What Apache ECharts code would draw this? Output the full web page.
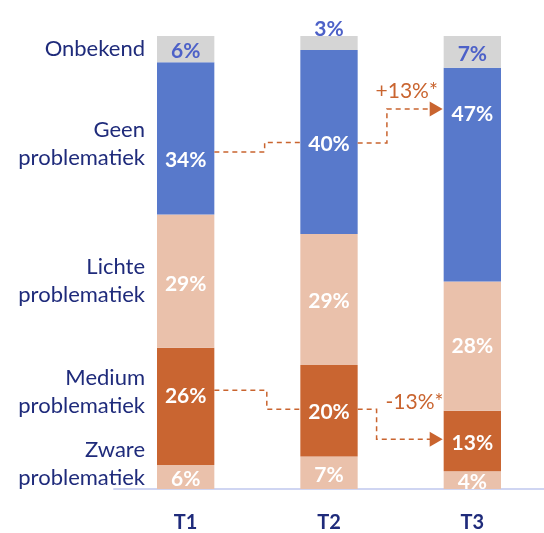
<!DOCTYPE html>
<html>
<head>
<meta charset="utf-8">
<script src="https://cdn.jsdelivr.net/npm/echarts@6/dist/echarts.min.js"></script>
<style>
  html, body { margin: 0; padding: 0; background: #fff; }
  #chart { width: 544px; height: 533px; }
</style>
</head>
<body>
<div id="chart"></div>
<script>
  // periods on the x axis
  var periods = ['T1', 'T2', 'T3'];

  // category names (bottom to top of the stack)
  var names = ['Zware\nproblematiek', 'Medium\nproblematiek', 'Lichte\nproblematiek', 'Geen\nproblematiek', 'Onbekend'];

  // segment shares as measured from the bar heights
  var zware    = [5.3, 7.2, 3.9];
  var medium   = [25.9, 20.2, 13.4];
  var lichte   = [29.4, 28.9, 28.5];
  var geen     = [33.6, 40.6, 47.2];
  var onbekend = [5.8, 3.1, 7.0];

  // percentages printed on the bars
  var zwareLbl    = [6, 7, 4];
  var mediumLbl   = [26, 20, 13];
  var lichteLbl   = [29, 29, 28];
  var geenLbl     = [34, 40, 47];
  var onbekendLbl = [6, 3, 7];

  // change annotations
  var changeText = ['', '+13%*', '', '-13%*'];

  var shares = [zware, medium, lichte, geen, onbekend];
  var shown = [zwareLbl, mediumLbl, lichteLbl, geenLbl, onbekendLbl];
  var colors = ['#eac1ab', '#c96531', '#eac1ab', '#5879cb', '#d5d5d5'];
  var navy = '#1f2b7b';
  var orange = '#c9642f';
  var font = 'Lato';

  // label tweaks per segment / period (the original has hand placed labels)
  var labelOffset = [
    [[0, 2], [0, 3], [0, 2]],
    [[0, -10], [0, 2], [0, 2]],
    [[0, 3], [0, 2], [0, 0]],
    [[0, 22], [0, 2], [0, -60]],
    [[0, 2], [0, 4], [0, 2]]
  ];
  var nameOffset = [[0, -13], [0, -14], [0, 0], [0, 6], [0, 0]];

  var series = [];
  shares.forEach(function (vals, s) {
    series.push({
      name: names[s],
      type: 'bar',
      stack: 'bars',
      barWidth: '40%',
      barGap: '-100%',
      itemStyle: { color: colors[s] },
      data: vals.map(function (v, i) {
        var isTop = s === 4;
        var lbl = {
          show: true,
          position: 'inside',
          offset: labelOffset[s][i],
          fontFamily: font,
          fontWeight: 'bold',
          fontSize: 21,
          color: isTop ? '#4d61c8' : '#ffffff',
          formatter: shown[s][i] + '%'
        };
        if (isTop && i === 1) {
          lbl.position = 'top';
          lbl.distance = 0;
        }
        return { value: v, label: lbl };
      })
    });
  });

  // invisible twin stack for the category names left of T1
  shares.forEach(function (vals, s) {
    series.push({
      name: 'lbl' + s,
      type: 'bar',
      stack: 'names',
      barWidth: '40%',
      barGap: '-100%',
      silent: true,
      itemStyle: { color: 'rgba(0,0,0,0)' },
      label: {
        show: true,
        position: 'left',
        distance: 12,
        offset: nameOffset[s],
        fontFamily: font,
        fontSize: 22,
        lineHeight: 28,
        color: navy,
        formatter: function () { return names[s]; }
      },
      data: vals.map(function (v, i) { return i === 0 ? v : '-'; })
    });
  });

  // connectors: [fromIndex, fromValue, toValue, stepFraction, arrow, labelFraction, labelValue]
  var connectors = [
    [0, 74.4, 76.5, 0.585, 0, 0, 0],
    [1, 76.4, 83.9, 0.34, 1, 0.57, 87.8],
    [0, 21.8, 17.6, 0.61, 0, 0, 0],
    [1, 17.6, 11.0, 0.22, 1, 0.66, 19.1]
  ];

  series.push({
    type: 'custom',
    z: 5,
    silent: true,
    data: connectors,
    renderItem: function (params, api) {
      var from = api.value(0);
      var half = api.size([1, 0])[0] * 0.2;
      var p0 = api.coord([from, api.value(1)]);
      var p1 = api.coord([from + 1, api.value(2)]);
      var x0 = p0[0] + half;
      var x1 = p1[0] - half;
      var xs = x0 + (x1 - x0) * api.value(3);
      var arrow = api.value(4) === 1;
      var xe = arrow ? x1 - 12 : x1;
      var children = [{
        type: 'polyline',
        shape: { points: [[x0, p0[1]], [xs, p0[1]], [xs, p1[1]], [xe, p1[1]]] },
        style: { stroke: orange, lineWidth: 1.5, lineDash: [5, 4], fill: null }
      }];
      if (arrow) {
        children.push({
          type: 'polygon',
          shape: { points: [[x1 - 14, p1[1] - 7.5], [x1 - 1, p1[1]], [x1 - 14, p1[1] + 7.5]] },
          style: { fill: orange }
        });
      }
      var txt = changeText[params.dataIndex];
      if (txt) {
        var lp = api.coord([from + 1, api.value(6)]);
        children.push({
          type: 'text',
          x: x0 + (x1 - x0) * api.value(5),
          y: lp[1],
          style: {
            text: txt,
            fill: orange,
            font: '21px ' + font,
            textAlign: 'center',
            textVerticalAlign: 'middle'
          }
        });
      }
      return { type: 'group', children: children };
    }
  });

  var option = {
    animation: false,
    grid: { left: 114, right: -2, top: 36, bottom: 41 },
    xAxis: {
      type: 'category',
      data: periods,
      axisLine: { lineStyle: { color: '#cfd5f2', width: 2 } },
      axisTick: { show: false },
      axisLabel: {
        margin: 24,
        fontFamily: font,
        fontWeight: 'bold',
        fontSize: 20,
        color: navy
      }
    },
    yAxis: { type: 'value', min: 0, max: 100, show: false },
    series: series
  };

  var chart = echarts.init(document.getElementById('chart'));
  chart.setOption(option);
</script>
</body>
</html>
